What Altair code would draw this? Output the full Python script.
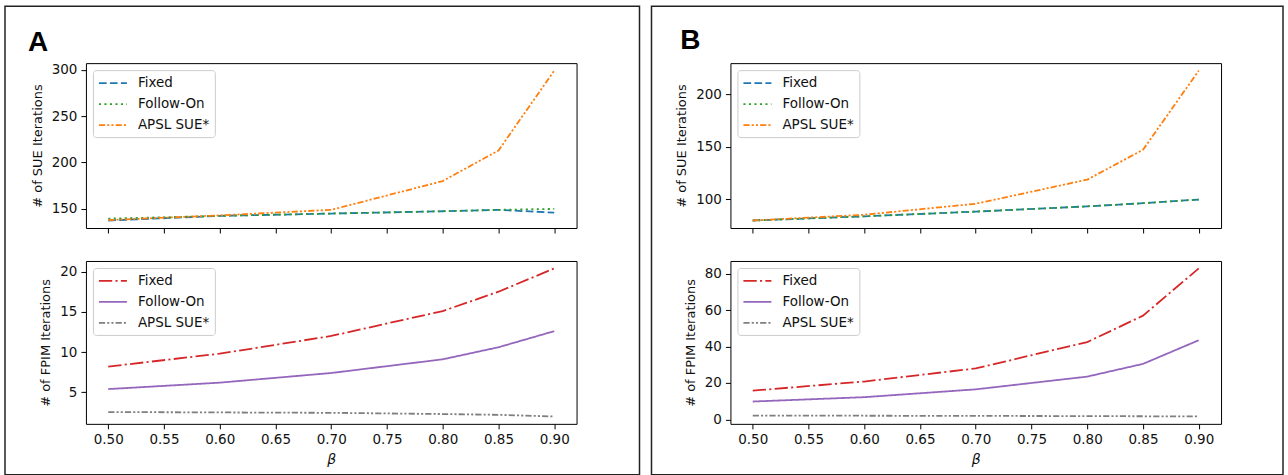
import altair as alt
import pandas as pd

# ---------------- data ----------------
beta = [0.50, 0.60, 0.70, 0.80, 0.85, 0.90]
series = ["Fixed", "Follow-On", "APSL SUE*"]

a_sue_fixed = [137.5, 142.5, 145.0, 147.5, 149.0, 146.0]
a_sue_follow = [139.5, 142.5, 145.0, 147.5, 149.0, 150.0]
a_sue_apsl = [138.0, 143.0, 149.0, 180.0, 213.0, 299.0]

a_fpim_fixed = [8.2, 9.8, 12.0, 15.1, 17.5, 20.4]
a_fpim_follow = [5.4, 6.2, 7.4, 9.1, 10.6, 12.6]
a_fpim_apsl = [2.55, 2.5, 2.45, 2.3, 2.2, 2.0]

b_sue_fixed = [79.5, 83.5, 88.0, 93.0, 96.0, 99.5]
b_sue_follow = [79.5, 83.5, 88.0, 93.0, 96.0, 99.5]
b_sue_apsl = [79.5, 85.0, 95.5, 118.5, 147.0, 222.5]

b_fpim_fixed = [15.8, 20.8, 28.0, 42.5, 57.0, 83.0]
b_fpim_follow = [9.8, 12.2, 16.5, 23.5, 30.5, 43.5]
b_fpim_apsl = [2.1, 2.0, 1.9, 1.8, 1.7, 1.6]

x_ticks = [0.50, 0.55, 0.60, 0.65, 0.70, 0.75, 0.80, 0.85, 0.90]
a_sue_ticks = [150, 200, 250, 300]
a_fpim_ticks = [5, 10, 15, 20]
b_sue_ticks = [100, 150, 200]
b_fpim_ticks = [0, 20, 40, 60, 80]

sue_colors = ["#1f77b4", "#2ca02c", "#ff7f0e"]
fpim_colors = ["#d62728", "#9467bd", "#7f7f7f"]
sue_dashes = [[7.7, 3.3], [2.1, 3.4], [6.2, 2.1, 2.1, 2.1, 2.1, 2.1]]
fpim_dashes = [[13.3, 3.3, 2.1, 3.3], [1, 0], [6.2, 2.1, 2.1, 2.1, 2.1, 2.1]]

PW, PH_TOP, PH_BOT = 491, 165, 163


def frame(vals):
    rows = []
    for s, v in zip(series, vals):
        for b, y in zip(beta, v):
            rows.append({"beta": b, "value": y, "series": s})
    return pd.DataFrame(rows)


def yrange(vals):
    allv = [y for v in vals for y in v]
    lo, hi = min(allv), max(allv)
    m = 0.05 * (hi - lo)
    return [lo - m, hi + m]


def xrange_():
    m = 0.05 * (max(beta) - min(beta))
    return [min(beta) - m, max(beta) + m]


def subplot(vals, colors, dashes, ytitle, yticks, bottom, height):
    df = frame(vals)
    x_axis = alt.Axis(values=x_ticks, format=".2f", labels=bottom,
                      title="β" if bottom else None,
                      titleFontStyle="italic", titleFontSize=14, titlePadding=6)
    base = alt.Chart(df).mark_line(strokeWidth=1.8, clip=True).encode(
        x=alt.X("beta:Q", scale=alt.Scale(domain=xrange_(), nice=False, zero=False), axis=x_axis),
        y=alt.Y("value:Q", scale=alt.Scale(domain=yrange(vals), nice=False, zero=False),
                axis=alt.Axis(values=yticks, title=ytitle, titlePadding=7)),
        color=alt.Color("series:N", scale=alt.Scale(domain=series, range=colors),
                        legend=alt.Legend(title=None)),
        strokeDash=alt.StrokeDash("series:N", scale=alt.Scale(domain=series, range=dashes),
                                  legend=alt.Legend(title=None)),
        order=alt.Order("beta:Q"),
    ).properties(width=PW, height=height)
    return base


def decor(letter, x0, x1, y0, y1, lx, ly):
    one = pd.DataFrame({"k": [0]})
    rect = alt.Chart(one).mark_rect(fill=None, stroke="#222222", strokeWidth=1.5, clip=False).encode(
        x=alt.value(x0), x2=alt.value(x1), y=alt.value(y0), y2=alt.value(y1))
    txt = alt.Chart(one).mark_text(text=letter, font="Liberation Sans", fontSize=28,
                                   fontWeight="bold", align="center", baseline="middle",
                                   color="black", clip=False).encode(
        x=alt.value(lx), y=alt.value(ly))
    return rect, txt


a_top = subplot([a_sue_fixed, a_sue_follow, a_sue_apsl], sue_colors, sue_dashes,
                "# of SUE Iterations", a_sue_ticks, False, PH_TOP)
b_top = subplot([b_sue_fixed, b_sue_follow, b_sue_apsl], sue_colors, sue_dashes,
                "# of SUE Iterations", b_sue_ticks, False, PH_TOP)
a_bot = subplot([a_fpim_fixed, a_fpim_follow, a_fpim_apsl], fpim_colors, fpim_dashes,
                "# of FPIM Iterations", a_fpim_ticks, True, PH_BOT)
b_bot = subplot([b_fpim_fixed, b_fpim_follow, b_fpim_apsl], fpim_colors, fpim_dashes,
                "# of FPIM Iterations", b_fpim_ticks, True, PH_BOT)

ra, ta = decor("A", -81, 554, -57, 412, -48, -20)
rb, tb = decor("B", -79, 553, -57, 412, -40, -22)

a_top_l = alt.layer(a_top, ra, ta)
b_top_l = alt.layer(b_top, rb, tb)

chart = alt.concat(
    a_top_l, b_top_l, a_bot, b_bot,
    columns=2,
    spacing=alt.RowColnumber(row=33, column=154),
    bounds="flush",
).resolve_scale(
    x="independent", y="independent", color="independent", strokeDash="independent"
).resolve_legend(
    color="independent", strokeDash="independent"
).properties(
    padding={"left": 3, "top": 4, "right": 3, "bottom": 0}
).configure_view(
    stroke="black", strokeWidth=1
).configure_axis(
    grid=False, domain=False, tickColor="black", tickSize=5, tickWidth=1,
    labelFont="DejaVu Sans", labelFontSize=13.5, labelColor="#111111", labelPadding=4,
    titleFont="DejaVu Sans", titleFontSize=13, titleFontWeight="normal", titleColor="#111111",
).configure_legend(
    orient="top-left", offset=7, padding=5,
    fillColor="rgba(255,255,255,0.8)", strokeColor="#cccccc", cornerRadius=3,
    labelFont="DejaVu Sans", labelFontSize=13.5, labelColor="#111111",
    symbolType="M-1,0H3", symbolSize=196, symbolStrokeWidth=1.8,
    rowPadding=6, labelOffset=24,
)

chart.save("out.html", embed_options={"renderer": "svg", "actions": False})
